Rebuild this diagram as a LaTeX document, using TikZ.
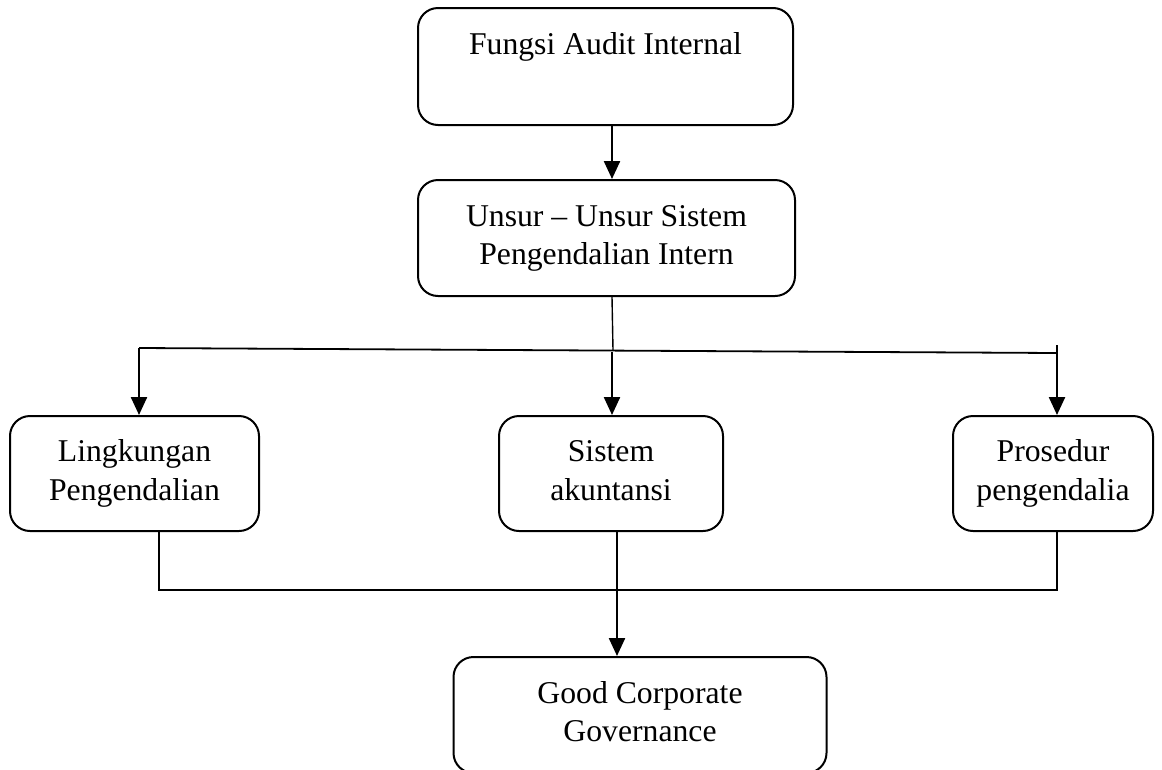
\documentclass[tikz,border=0pt]{standalone}
\usepackage{fontspec}
\setmainfont{Liberation Serif}
\usetikzlibrary{arrows.meta}
\begin{document}
\begin{tikzpicture}[x=1pt,y=-1pt,
  box/.style={draw, line width=2pt, rounded corners=20pt, align=center, inner sep=0pt,
    font=\fontsize{31.7}{38.5}\selectfont},
  arr/.style={line width=2.4pt, -{Triangle[length=18pt,width=16pt]}},
  conn/.style={line width=1.8pt}]
\useasboundingbox (0,0) rectangle (1162,769);
\clip (0,0) rectangle (1162,769);
\node[box, minimum width=375pt, minimum height=117pt] (fa) at (605.5,66.5) {\strut Fungsi Audit Internal\\ \strut};
\node[box, minimum width=377pt, minimum height=116pt] (us) at (606.5,238) {\strut Unsur -- Unsur Sistem\\Pengendalian Intern\strut};
\node[box, minimum width=249pt, minimum height=115pt] (lp) at (134.5,473.5) {\strut Lingkungan\\Pengendalian\strut};
\node[box, minimum width=224pt, minimum height=115pt] (sa) at (611,473.5) {\strut Sistem\\akuntansi\strut};
\node[box, minimum width=200pt, minimum height=115pt] (pp) at (1053,473.5) {\strut Prosedur\\pengendalia\strut};
\node[box, minimum width=373pt, minimum height=116pt] (gc) at (640,715) {\strut Good Corporate\\Governance\strut};
\coordinate (j) at (613,350);
\coordinate (hl) at (139,348);
\coordinate (hr) at (1057,353);
\coordinate (hm) at (612,352);
\coordinate (rt) at (1057,345);
\coordinate (bl) at (159,590);
\coordinate (br) at (1057,590);
\coordinate (bm) at (617,531);
\draw[arr] (fa.south -| 612,0) -- (us.north -| 612,0);
\draw[line width=1.4pt] (us.south -| 612,0) -- (j);
\draw[conn] (hl) -- (hr);
\draw[arr] (hl) -- (hl |- lp.north);
\draw[arr] (hm) -- (hm |- sa.north);
\draw[arr] (rt) -- (rt |- pp.north);
\draw[conn] (bl |- lp.south) -- (bl) -- (br) -- (br |- pp.south);
\draw[arr] (bm) -- (bm |- gc.north);
\end{tikzpicture}
\end{document}
